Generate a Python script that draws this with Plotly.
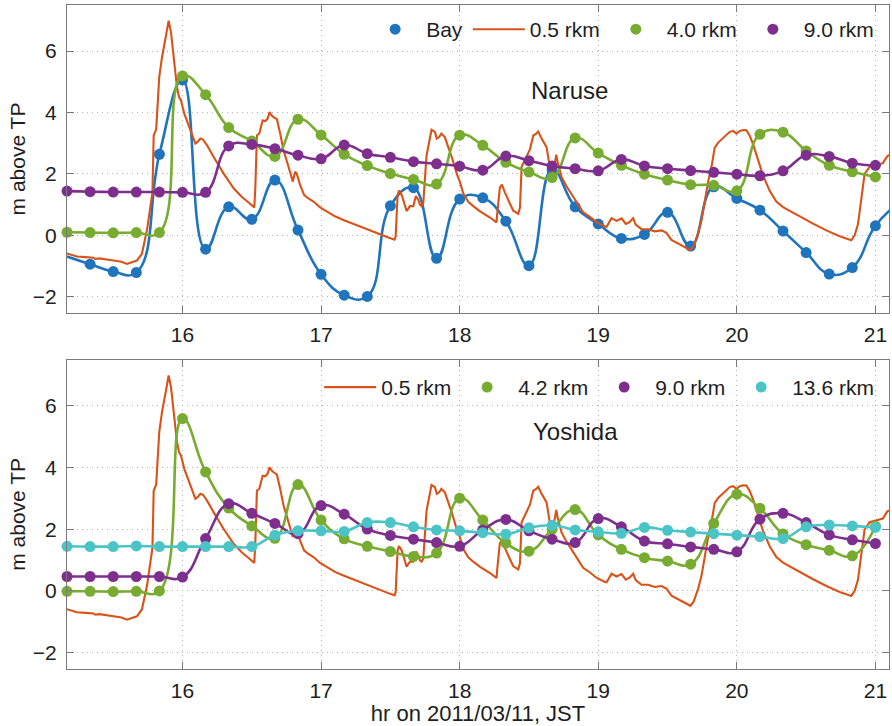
import plotly.graph_objects as go
from plotly.subplots import make_subplots

# 10-minute sample times (hours, JST, 2011-03-11)
HOURS = [15.1667, 15.3333, 15.5, 15.6667, 15.8333, 16.0,
         16.1667, 16.3333, 16.5, 16.6667, 16.8333, 17.0,
         17.1667, 17.3333, 17.5, 17.6667, 17.8333, 18.0,
         18.1667, 18.3333, 18.5, 18.6667, 18.8333, 19.0,
         19.1667, 19.3333, 19.5, 19.6667, 19.8333, 20.0,
         20.1667, 20.3333, 20.5, 20.6667, 20.8333, 21.0]

# Naruse river (m above TP)
BAY_HOURS = HOURS + [21.1667]
BAY_LEVEL = [-0.69, -0.94, -1.18, -1.21, 2.64, 5.06,
             -0.45, 0.93, 0.52, 1.80, 0.17, -1.27,
             -1.95, -1.99, 0.96, 1.55, -0.75, 1.18,
             1.22, 0.46, -0.99, 2.14, 0.93, 0.37,
             -0.10, 0.03, 0.75, -0.35, 1.58, 1.20,
             0.82, 0.14, -0.56, -1.26, -1.05, 0.31, 1.05]
NARUSE_4_0 = [0.10, 0.09, 0.08, 0.09, 0.09, 5.19,
              4.58, 3.51, 3.07, 2.57, 3.78, 3.27,
              2.64, 2.27, 2.01, 1.82, 1.67, 3.26,
              2.93, 2.38, 2.06, 1.88, 3.17, 2.68,
              2.28, 1.99, 1.80, 1.65, 1.63, 1.45,
              3.29, 3.36, 2.75, 2.28, 2.07, 1.90]
NARUSE_9_0 = [1.44, 1.42, 1.41, 1.41, 1.41, 1.40,
              1.40, 2.91, 2.96, 2.82, 2.61, 2.49,
              2.94, 2.66, 2.54, 2.40, 2.33, 2.25,
              2.12, 2.58, 2.43, 2.26, 2.17, 2.10,
              2.47, 2.26, 2.17, 2.11, 2.05, 1.99,
              1.94, 2.10, 2.61, 2.57, 2.35, 2.28]

# Yoshida river (m above TP)
YOSHIDA_4_2 = [-0.01, -0.01, -0.02, -0.01, 0.00, 5.59,
               3.86, 2.69, 2.11, 1.71, 3.45, 2.30,
               1.69, 1.45, 1.28, 1.12, 1.23, 3.01,
               2.30, 1.55, 1.29, 2.00, 2.64, 1.82,
               1.35, 1.08, 0.97, 0.87, 2.19, 3.14,
               2.68, 1.85, 1.50, 1.32, 1.14, 2.10]
YOSHIDA_9_0 = [0.47, 0.47, 0.47, 0.47, 0.47, 0.45,
               1.70, 2.83, 2.52, 2.19, 1.86, 2.77,
               2.49, 2.01, 1.80, 1.68, 1.57, 1.45,
               1.98, 2.32, 1.95, 1.68, 1.57, 2.35,
               2.08, 1.62, 1.53, 1.43, 1.35, 1.27,
               2.33, 2.52, 2.22, 1.82, 1.66, 1.54]
YOSHIDA_13_6 = [1.45, 1.44, 1.44, 1.46, 1.44, 1.44,
                1.44, 1.44, 1.44, 1.81, 1.95, 1.95,
                1.93, 2.22, 2.22, 2.08, 1.98, 1.95,
                1.89, 1.84, 2.05, 2.13, 1.98, 1.92,
                1.87, 2.06, 1.97, 1.91, 1.86, 1.81,
                1.76, 1.70, 2.08, 2.14, 2.11, 2.06]

# 0.5 rkm gauge (shared by both rivers), high-rate record
GAUGE_HOURS = [15.166, 15.238, 15.30, 15.358, 15.37, 15.40, 15.502, 15.56, 15.599, 15.63,
               15.671, 15.707, 15.72, 15.745, 15.767, 15.783, 15.792, 15.81, 15.832, 15.852,
               15.883, 15.900, 15.917, 15.936, 15.960, 15.975, 15.989, 16.013, 16.045, 16.076,
               16.093, 16.11, 16.129, 16.148, 16.177, 16.225, 16.297, 16.369, 16.429, 16.477,
               16.518, 16.525, 16.537, 16.554, 16.578, 16.597, 16.614, 16.628, 16.642, 16.657,
               16.681, 16.705, 16.729, 16.758, 16.782, 16.796, 16.813, 16.825, 16.849, 16.878,
               16.909, 16.945, 16.993, 17.041, 17.10, 17.161, 17.281, 17.353, 17.401, 17.485,
               17.530, 17.538, 17.552, 17.562, 17.583, 17.617, 17.641, 17.665, 17.684, 17.702,
               17.713, 17.725, 17.737, 17.761, 17.797, 17.821, 17.835, 17.852, 17.868, 17.893,
               17.917, 17.943, 17.979, 18.001, 18.027, 18.062, 18.098, 18.147, 18.219, 18.266,
               18.271, 18.290, 18.305, 18.326, 18.363, 18.387, 18.423, 18.435, 18.447, 18.471,
               18.507, 18.531, 18.55, 18.567, 18.591, 18.627, 18.651, 18.675, 18.697, 18.706,
               18.735, 18.771, 18.843, 18.891, 18.94, 18.987, 19.048, 19.06, 19.096, 19.132,
               19.168, 19.199, 19.228, 19.252, 19.270, 19.312, 19.36, 19.384, 19.408, 19.456,
               19.492, 19.528, 19.576, 19.624, 19.665, 19.689, 19.72, 19.745, 19.769, 19.793,
               19.817, 19.840, 19.865, 19.90, 19.925, 19.949, 19.973, 19.997, 20.021, 20.048,
               20.069, 20.093, 20.117, 20.153, 20.189, 20.237, 20.285, 20.333, 20.381, 20.454,
               20.55, 20.646, 20.742, 20.826, 20.85, 20.874, 20.898, 20.922, 20.958, 21.006,
               21.054, 21.086, 21.117]
GAUGE_LEVEL = [-0.59, -0.69, -0.71, -0.73, -0.77, -0.75, -0.82, -0.86, -0.93, -0.88,
               -0.82, -0.60, -0.30, 0.20, 0.90, 1.40, 3.25, 3.45, 5.15, 5.80,
               6.56, 6.99, 6.61, 5.91, 4.83, 4.50, 4.39, 3.96, 3.58, 3.20,
               2.99, 3.05, 3.15, 3.12, 2.93, 2.55, 2.01, 1.53, 1.25, 1.07,
               0.91, 1.50, 3.26, 3.31, 3.74, 3.72, 3.80, 4.01, 3.91, 3.85,
               3.78, 3.31, 2.77, 2.34, 1.95, 1.75, 2.07, 2.00, 1.63, 1.31,
               1.20, 1.10, 0.91, 0.77, 0.62, 0.50, 0.28, 0.16, 0.06, -0.07,
               -0.14, -0.04, 1.31, 1.46, 1.30, 0.79, 0.95, 0.95, 1.28, 1.15,
               1.00, 0.95, 1.04, 2.60, 3.44, 3.37, 3.15, 3.20, 3.31, 3.20,
               2.88, 2.55, 2.00, 1.75, 1.35, 1.09, 0.95, 0.78, 0.58, 0.42,
               0.71, 1.55, 1.65, 1.40, 1.03, 0.80, 0.70, 0.90, 2.23, 2.45,
               2.80, 3.25, 3.30, 3.38, 3.15, 2.87, 2.20, 2.05, 2.63, 2.40,
               1.90, 1.60, 1.10, 0.75, 0.60, 0.43, 0.29, 0.28, 0.56, 0.47,
               0.55, 0.37, 0.44, 0.56, 0.35, 0.20, 0.20, 0.17, 0.13, 0.16,
               0.08, -0.15, -0.26, -0.38, -0.48, -0.34, 0.06, 0.49, 1.14, 1.75,
               2.23, 2.85, 3.02, 3.17, 3.30, 3.37, 3.40, 3.31, 3.40, 3.43,
               3.42, 3.24, 2.97, 2.43, 1.95, 1.45, 1.10, 0.92, 0.80, 0.60,
               0.38, 0.16, -0.03, -0.16, 0.00, 0.36, 1.20, 2.00, 2.23, 2.28,
               2.35, 2.58, 2.65]

X_TICKS = [16, 17, 18, 19, 20, 21]
Y_TICKS = [-2, 0, 2, 4, 6]

BLUE = "#1f74bc"
ORANGE = "#d95319"
GREEN = "#77ac30"
PURPLE = "#7e2f8e"
CYAN = "#4bc4c7"

FONT = "Liberation Sans, Arial, Helvetica, sans-serif"
TEXT = "#1e1e1e"
AXIS_GRAY = "#7a7a7a"

fig = make_subplots(rows=2, cols=1, vertical_spacing=0.0704)


def station(x, y, name, color, row, legend, show_from=None, show_to=None):
    # smooth line through the 10-minute samples
    fig.add_trace(go.Scatter(x=x, y=y, mode="lines",
                             line=dict(color=color, width=2.6, shape="spline", smoothing=1.3),
                             showlegend=False, hoverinfo="skip"), row=row, col=1)
    mx, my = [], []
    for xi, yi in zip(x, y):
        if (show_from is None or xi >= show_from) and (show_to is None or xi <= show_to):
            mx.append(xi)
            my.append(yi)
    fig.add_trace(go.Scatter(x=mx, y=my, mode="markers", name=name, legend=legend,
                             marker=dict(color=color, size=11, line=dict(width=0)),
                             cliponaxis=False), row=row, col=1)


def gauge(row, legend):
    fig.add_trace(go.Scatter(x=GAUGE_HOURS, y=GAUGE_LEVEL, mode="lines", name="0.5 rkm",
                             legend=legend, line=dict(color=ORANGE, width=2.1)), row=row, col=1)


# Naruse
station(BAY_HOURS, BAY_LEVEL, "Bay", BLUE, 1, "legend", show_from=15.3, show_to=21.05)
gauge(1, "legend")
station(HOURS, NARUSE_4_0, "4.0 rkm", GREEN, 1, "legend")
station(HOURS, NARUSE_9_0, "9.0 rkm", PURPLE, 1, "legend")

# Yoshida
gauge(2, "legend2")
station(HOURS, YOSHIDA_4_2, "4.2 rkm", GREEN, 2, "legend2")
station(HOURS, YOSHIDA_9_0, "9.0 rkm", PURPLE, 2, "legend2")
station(HOURS, YOSHIDA_13_6, "13.6 rkm", CYAN, 2, "legend2")

axis_common = dict(showline=True, linecolor=AXIS_GRAY, linewidth=1.4, mirror="ticks",
                   ticks="inside", ticklen=7, tickwidth=1, tickcolor=AXIS_GRAY,
                   showgrid=True, gridcolor="#b4b4b4", griddash="1px,4px", gridwidth=1,
                   zeroline=False, tickfont=dict(family=FONT, size=21, color=TEXT))

for r in (1, 2):
    fig.update_xaxes(range=[15.1665, 21.098], tickvals=X_TICKS, ticklabelstandoff=3,
                     showticklabels=True, row=r, col=1, **axis_common)
    fig.update_yaxes(range=[-2.53, 7.5], tickvals=Y_TICKS, ticklabelstandoff=5,
                     tickformat="d",
                     title=dict(text="m above TP", font=dict(family=FONT, size=21, color=TEXT),
                                standoff=1),
                     row=r, col=1, **axis_common)

fig.update_xaxes(title=dict(text="hr on 2011/03/11, JST", font=dict(family=FONT, size=22, color=TEXT),
                            standoff=2), row=2, col=1)

legend_style = dict(orientation="h", xanchor="right", yanchor="middle",
                    bgcolor="rgba(0,0,0,0)", itemwidth=52,
                    font=dict(family=FONT, size=21, color=TEXT))

fig.update_layout(
    width=892, height=726,
    margin=dict(l=67, r=3, t=5, b=57),
    plot_bgcolor="white", paper_bgcolor="white",
    yaxis=dict(domain=[0.5361, 1.0]),
    yaxis2=dict(domain=[0.0, 0.4658]),
    legend=dict(x=0.988, y=0.963, **legend_style),
    legend2=dict(x=0.988, y=0.424, **legend_style),
    annotations=[
        dict(text="Naruse", xref="paper", yref="paper", x=(569 - 67) / 822, y=(669.3 - 75) / 664.3,
             showarrow=False, font=dict(family=FONT, size=24, color=TEXT)),
        dict(text="Yoshida", xref="paper", yref="paper", x=(575 - 67) / 822, y=(669.3 - 432) / 664.3,
             showarrow=False, font=dict(family=FONT, size=24, color=TEXT)),
    ],
)

fig.write_html("out.html")
